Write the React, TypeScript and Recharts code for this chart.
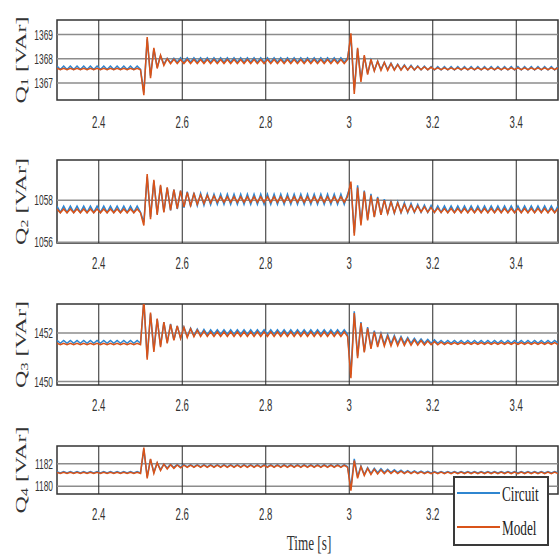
import { LineChart, Line, XAxis, YAxis, ReferenceLine, ReferenceArea, Legend } from 'recharts';

// sample times (s)
const time = [
  2.3, 2.308, 2.316, 2.324, 2.332, 2.34, 2.348, 2.356, 2.364, 2.372,
  2.38, 2.388, 2.396, 2.404, 2.412, 2.42, 2.428, 2.436, 2.444, 2.452,
  2.46, 2.468, 2.476, 2.484, 2.492, 2.5, 2.508, 2.516, 2.524, 2.532,
  2.54, 2.548, 2.556, 2.564, 2.572, 2.58, 2.588, 2.596, 2.604, 2.612,
  2.62, 2.628, 2.636, 2.644, 2.652, 2.66, 2.668, 2.676, 2.684, 2.692,
  2.7, 2.708, 2.716, 2.724, 2.732, 2.74, 2.748, 2.756, 2.764, 2.772,
  2.78, 2.788, 2.796, 2.804, 2.812, 2.82, 2.828, 2.836, 2.844, 2.852,
  2.86, 2.868, 2.876, 2.884, 2.892, 2.9, 2.908, 2.916, 2.924, 2.932,
  2.94, 2.948, 2.956, 2.964, 2.972, 2.98, 2.988, 2.996, 3.004, 3.012,
  3.02, 3.028, 3.036, 3.044, 3.052, 3.06, 3.068, 3.076, 3.084, 3.092,
  3.1, 3.108, 3.116, 3.124, 3.132, 3.14, 3.148, 3.156, 3.164, 3.172,
  3.18, 3.188, 3.196, 3.204, 3.212, 3.22, 3.228, 3.236, 3.244, 3.252,
  3.26, 3.268, 3.276, 3.284, 3.292, 3.3, 3.308, 3.316, 3.324, 3.332,
  3.34, 3.348, 3.356, 3.364, 3.372, 3.38, 3.388, 3.396, 3.404, 3.412,
  3.42, 3.428, 3.436, 3.444, 3.452, 3.46, 3.468, 3.476, 3.484, 3.492,
  3.5,
];

const q1Circuit = [
  1367.7, 1367.56, 1367.7, 1367.56, 1367.7, 1367.56, 1367.7, 1367.56, 1367.7, 1367.56,
  1367.7, 1367.56, 1367.7, 1367.56, 1367.7, 1367.56, 1367.7, 1367.56, 1367.7, 1367.56,
  1367.7, 1367.56, 1367.7, 1367.56, 1367.7, 1367.56, 1366.6, 1368.8, 1367.3, 1368.4,
  1367.65, 1368.12, 1367.78, 1368.02, 1367.84, 1368.02, 1367.86, 1368.04, 1367.86, 1368.04,
  1367.86, 1368.04, 1367.86, 1368.04, 1367.86, 1368.04, 1367.86, 1368.04, 1367.86, 1368.04,
  1367.86, 1368.04, 1367.86, 1368.04, 1367.86, 1368.04, 1367.86, 1368.04, 1367.86, 1368.04,
  1367.86, 1368.04, 1367.86, 1368.04, 1367.86, 1368.04, 1367.86, 1368.04, 1367.86, 1368.04,
  1367.86, 1368.04, 1367.86, 1368.04, 1367.86, 1368.04, 1367.86, 1368.04, 1367.86, 1368.04,
  1367.86, 1368.04, 1367.86, 1368.04, 1367.86, 1368.04, 1367.86, 1368.04, 1368.9, 1366.7,
  1368.4, 1367.15, 1368.1, 1367.4, 1367.95, 1367.52, 1367.9, 1367.56, 1367.86, 1367.56,
  1367.82, 1367.55, 1367.78, 1367.55, 1367.75, 1367.54, 1367.73, 1367.54, 1367.71, 1367.54,
  1367.7, 1367.54, 1367.68, 1367.54, 1367.68, 1367.54, 1367.68, 1367.54, 1367.68, 1367.54,
  1367.68, 1367.54, 1367.68, 1367.54, 1367.68, 1367.54, 1367.68, 1367.54, 1367.68, 1367.54,
  1367.68, 1367.54, 1367.68, 1367.54, 1367.68, 1367.54, 1367.68, 1367.54, 1367.68, 1367.54,
  1367.68, 1367.54, 1367.68, 1367.54, 1367.68, 1367.54, 1367.68, 1367.54, 1367.68, 1367.54,
  1367.68,
];

const q1Model = [
  1367.61, 1367.55, 1367.61, 1367.55, 1367.61, 1367.55, 1367.61, 1367.55, 1367.61, 1367.55,
  1367.61, 1367.55, 1367.61, 1367.55, 1367.61, 1367.55, 1367.61, 1367.55, 1367.61, 1367.55,
  1367.61, 1367.55, 1367.61, 1367.55, 1367.61, 1367.55, 1366.5, 1368.9, 1367.2, 1368.45,
  1367.6, 1368.15, 1367.72, 1368.0, 1367.8, 1367.98, 1367.8, 1367.97, 1367.8, 1367.97,
  1367.8, 1367.97, 1367.8, 1367.97, 1367.8, 1367.97, 1367.8, 1367.97, 1367.8, 1367.97,
  1367.8, 1367.97, 1367.8, 1367.97, 1367.8, 1367.97, 1367.8, 1367.97, 1367.8, 1367.97,
  1367.8, 1367.97, 1367.8, 1367.97, 1367.8, 1367.97, 1367.8, 1367.97, 1367.8, 1367.97,
  1367.8, 1367.97, 1367.8, 1367.97, 1367.8, 1367.97, 1367.8, 1367.97, 1367.8, 1367.97,
  1367.8, 1367.97, 1367.8, 1367.97, 1367.8, 1367.97, 1367.8, 1367.97, 1369.05, 1366.55,
  1368.45, 1367.05, 1368.15, 1367.35, 1367.98, 1367.5, 1367.9, 1367.52, 1367.85, 1367.52,
  1367.8, 1367.53, 1367.76, 1367.53, 1367.72, 1367.54, 1367.7, 1367.54, 1367.68, 1367.55,
  1367.66, 1367.55, 1367.65, 1367.55, 1367.63, 1367.55, 1367.63, 1367.55, 1367.63, 1367.55,
  1367.63, 1367.55, 1367.63, 1367.55, 1367.63, 1367.55, 1367.63, 1367.55, 1367.63, 1367.55,
  1367.63, 1367.55, 1367.63, 1367.55, 1367.63, 1367.55, 1367.63, 1367.55, 1367.63, 1367.55,
  1367.63, 1367.55, 1367.63, 1367.55, 1367.63, 1367.55, 1367.63, 1367.55, 1367.63, 1367.55,
  1367.63,
];

const q2Circuit = [
  1057.72, 1057.42, 1057.72, 1057.42, 1057.72, 1057.42, 1057.72, 1057.42, 1057.72, 1057.42,
  1057.72, 1057.42, 1057.72, 1057.42, 1057.72, 1057.42, 1057.72, 1057.42, 1057.72, 1057.42,
  1057.72, 1057.42, 1057.72, 1057.42, 1057.72, 1057.42, 1056.95, 1059.1, 1057.2, 1058.9,
  1057.35, 1058.66, 1057.45, 1058.58, 1057.52, 1058.5, 1057.58, 1058.45, 1057.64, 1058.4,
  1057.7, 1058.35, 1057.74, 1058.32, 1057.76, 1058.3, 1057.78, 1058.28, 1057.8, 1058.28,
  1057.8, 1058.28, 1057.8, 1058.28, 1057.8, 1058.28, 1057.8, 1058.28, 1057.8, 1058.28,
  1057.8, 1058.28, 1057.8, 1058.28, 1057.8, 1058.28, 1057.8, 1058.28, 1057.8, 1058.28,
  1057.8, 1058.28, 1057.8, 1058.28, 1057.8, 1058.28, 1057.8, 1058.28, 1057.8, 1058.28,
  1057.8, 1058.28, 1057.8, 1058.28, 1057.8, 1058.28, 1057.8, 1058.28, 1058.75, 1056.45,
  1058.7, 1056.9, 1058.45, 1057.1, 1058.3, 1057.22, 1058.15, 1057.3, 1058.05, 1057.34,
  1057.98, 1057.38, 1057.92, 1057.4, 1057.88, 1057.4, 1057.84, 1057.42, 1057.8, 1057.42,
  1057.77, 1057.42, 1057.75, 1057.42, 1057.73, 1057.42, 1057.73, 1057.42, 1057.73, 1057.42,
  1057.73, 1057.42, 1057.73, 1057.42, 1057.73, 1057.42, 1057.73, 1057.42, 1057.73, 1057.42,
  1057.73, 1057.42, 1057.73, 1057.42, 1057.73, 1057.42, 1057.73, 1057.42, 1057.73, 1057.42,
  1057.73, 1057.42, 1057.73, 1057.42, 1057.73, 1057.42, 1057.73, 1057.42, 1057.73, 1057.42,
  1057.73,
];

const q2Model = [
  1057.58, 1057.4, 1057.58, 1057.4, 1057.58, 1057.4, 1057.58, 1057.4, 1057.58, 1057.4,
  1057.58, 1057.4, 1057.58, 1057.4, 1057.58, 1057.4, 1057.58, 1057.4, 1057.58, 1057.4,
  1057.58, 1057.4, 1057.58, 1057.4, 1057.58, 1057.4, 1056.8, 1059.24, 1057.1, 1058.96,
  1057.3, 1058.72, 1057.42, 1058.6, 1057.52, 1058.5, 1057.6, 1058.45, 1057.68, 1058.36,
  1057.74, 1058.3, 1057.8, 1058.25, 1057.84, 1058.22, 1057.87, 1058.2, 1057.9, 1058.16,
  1057.9, 1058.16, 1057.9, 1058.16, 1057.9, 1058.16, 1057.9, 1058.16, 1057.9, 1058.16,
  1057.9, 1058.16, 1057.9, 1058.16, 1057.9, 1058.16, 1057.9, 1058.16, 1057.9, 1058.16,
  1057.9, 1058.16, 1057.9, 1058.16, 1057.9, 1058.16, 1057.9, 1058.16, 1057.9, 1058.16,
  1057.9, 1058.16, 1057.9, 1058.16, 1057.9, 1058.16, 1057.9, 1058.16, 1058.88, 1056.32,
  1058.6, 1056.8, 1058.4, 1057.04, 1058.22, 1057.2, 1058.1, 1057.3, 1058.0, 1057.36,
  1057.92, 1057.4, 1057.86, 1057.42, 1057.8, 1057.44, 1057.76, 1057.44, 1057.72, 1057.44,
  1057.68, 1057.43, 1057.65, 1057.42, 1057.62, 1057.41, 1057.6, 1057.4, 1057.6, 1057.4,
  1057.6, 1057.4, 1057.6, 1057.4, 1057.6, 1057.4, 1057.6, 1057.4, 1057.6, 1057.4,
  1057.6, 1057.4, 1057.6, 1057.4, 1057.6, 1057.4, 1057.6, 1057.4, 1057.6, 1057.4,
  1057.6, 1057.4, 1057.6, 1057.4, 1057.6, 1057.4, 1057.6, 1057.4, 1057.6, 1057.4,
  1057.6,
];

const q3Circuit = [
  1451.7, 1451.58, 1451.7, 1451.58, 1451.7, 1451.58, 1451.7, 1451.58, 1451.7, 1451.58,
  1451.7, 1451.58, 1451.7, 1451.58, 1451.7, 1451.58, 1451.7, 1451.58, 1451.7, 1451.58,
  1451.7, 1451.58, 1451.7, 1451.58, 1451.7, 1451.58, 1453.3, 1451.0, 1452.8, 1451.3,
  1452.58, 1451.48, 1452.45, 1451.62, 1452.38, 1451.72, 1452.3, 1451.8, 1452.25, 1451.86,
  1452.2, 1451.9, 1452.17, 1451.92, 1452.15, 1451.94, 1452.14, 1451.95, 1452.14, 1451.95,
  1452.14, 1451.95, 1452.14, 1451.95, 1452.14, 1451.95, 1452.14, 1451.95, 1452.14, 1451.95,
  1452.14, 1451.95, 1452.14, 1451.95, 1452.14, 1451.95, 1452.14, 1451.95, 1452.14, 1451.95,
  1452.14, 1451.95, 1452.14, 1451.95, 1452.14, 1451.95, 1452.14, 1451.95, 1452.14, 1451.95,
  1452.14, 1451.95, 1452.14, 1451.95, 1452.14, 1451.95, 1452.14, 1451.95, 1450.3, 1452.9,
  1451.05, 1452.45, 1451.25, 1452.25, 1451.42, 1452.1, 1451.5, 1452.0, 1451.54, 1451.94,
  1451.56, 1451.9, 1451.57, 1451.86, 1451.58, 1451.82, 1451.58, 1451.78, 1451.58, 1451.76,
  1451.58, 1451.74, 1451.58, 1451.72, 1451.58, 1451.7, 1451.58, 1451.7, 1451.58, 1451.7,
  1451.58, 1451.7, 1451.58, 1451.7, 1451.58, 1451.7, 1451.58, 1451.7, 1451.58, 1451.7,
  1451.58, 1451.7, 1451.58, 1451.7, 1451.58, 1451.7, 1451.58, 1451.7, 1451.58, 1451.7,
  1451.58, 1451.7, 1451.58, 1451.7, 1451.58, 1451.7, 1451.58, 1451.7, 1451.58, 1451.7,
  1451.58,
];

const q3Model = [
  1451.58, 1451.52, 1451.58, 1451.52, 1451.58, 1451.52, 1451.58, 1451.52, 1451.58, 1451.52,
  1451.58, 1451.52, 1451.58, 1451.52, 1451.58, 1451.52, 1451.58, 1451.52, 1451.58, 1451.52,
  1451.58, 1451.52, 1451.58, 1451.52, 1451.58, 1451.52, 1453.4, 1450.9, 1452.85, 1451.22,
  1452.6, 1451.42, 1452.45, 1451.58, 1452.36, 1451.7, 1452.3, 1451.78, 1452.24, 1451.82,
  1452.18, 1451.85, 1452.12, 1451.86, 1452.08, 1451.86, 1452.05, 1451.86, 1452.05, 1451.86,
  1452.05, 1451.86, 1452.05, 1451.86, 1452.05, 1451.86, 1452.05, 1451.86, 1452.05, 1451.86,
  1452.05, 1451.86, 1452.05, 1451.86, 1452.05, 1451.86, 1452.05, 1451.86, 1452.05, 1451.86,
  1452.05, 1451.86, 1452.05, 1451.86, 1452.05, 1451.86, 1452.05, 1451.86, 1452.05, 1451.86,
  1452.05, 1451.86, 1452.05, 1451.86, 1452.05, 1451.86, 1452.05, 1451.86, 1450.14, 1452.83,
  1450.97, 1452.41, 1451.2, 1452.2, 1451.35, 1452.05, 1451.42, 1451.95, 1451.46, 1451.88,
  1451.47, 1451.84, 1451.48, 1451.8, 1451.49, 1451.76, 1451.5, 1451.72, 1451.5, 1451.69,
  1451.51, 1451.67, 1451.52, 1451.65, 1451.52, 1451.63, 1451.53, 1451.61, 1451.53, 1451.61,
  1451.53, 1451.61, 1451.53, 1451.61, 1451.53, 1451.61, 1451.53, 1451.61, 1451.53, 1451.61,
  1451.53, 1451.61, 1451.53, 1451.61, 1451.53, 1451.61, 1451.53, 1451.61, 1451.53, 1451.61,
  1451.53, 1451.61, 1451.53, 1451.61, 1451.53, 1451.61, 1451.53, 1451.61, 1451.53, 1451.61,
  1451.53,
];

const q4Circuit = [
  1181.3, 1181.18, 1181.3, 1181.18, 1181.3, 1181.18, 1181.3, 1181.18, 1181.3, 1181.18,
  1181.3, 1181.18, 1181.3, 1181.18, 1181.3, 1181.18, 1181.3, 1181.18, 1181.3, 1181.18,
  1181.3, 1181.18, 1181.3, 1181.18, 1181.3, 1181.18, 1183.3, 1180.85, 1182.4, 1181.25,
  1182.08, 1181.48, 1181.98, 1181.62, 1181.95, 1181.68, 1181.94, 1181.72, 1181.93, 1181.74,
  1181.93, 1181.74, 1181.93, 1181.74, 1181.93, 1181.74, 1181.93, 1181.74, 1181.93, 1181.74,
  1181.93, 1181.74, 1181.93, 1181.74, 1181.93, 1181.74, 1181.93, 1181.74, 1181.93, 1181.74,
  1181.93, 1181.74, 1181.93, 1181.74, 1181.93, 1181.74, 1181.93, 1181.74, 1181.93, 1181.74,
  1181.93, 1181.74, 1181.93, 1181.74, 1181.93, 1181.74, 1181.93, 1181.74, 1181.93, 1181.74,
  1181.93, 1181.74, 1181.93, 1181.74, 1181.93, 1181.74, 1181.93, 1181.74, 1179.9, 1182.45,
  1180.85, 1181.8, 1181.05, 1181.66, 1181.15, 1181.6, 1181.2, 1181.56, 1181.22, 1181.52,
  1181.22, 1181.48, 1181.21, 1181.44, 1181.2, 1181.4, 1181.2, 1181.37, 1181.19, 1181.35,
  1181.19, 1181.33, 1181.19, 1181.32, 1181.19, 1181.32, 1181.19, 1181.32, 1181.19, 1181.32,
  1181.19, 1181.32, 1181.19, 1181.32, 1181.19, 1181.32, 1181.19, 1181.32, 1181.19, 1181.32,
  1181.19, 1181.32, 1181.19, 1181.32, 1181.19, 1181.32, 1181.19, 1181.32, 1181.19, 1181.32,
  1181.19, 1181.32, 1181.19, 1181.32, 1181.19, 1181.32, 1181.19, 1181.32, 1181.19, 1181.32,
  1181.19,
];

const q4Model = [
  1181.24, 1181.14, 1181.24, 1181.14, 1181.24, 1181.14, 1181.24, 1181.14, 1181.24, 1181.14,
  1181.24, 1181.14, 1181.24, 1181.14, 1181.24, 1181.14, 1181.24, 1181.14, 1181.24, 1181.14,
  1181.24, 1181.14, 1181.24, 1181.14, 1181.24, 1181.14, 1183.45, 1180.7, 1182.45, 1181.15,
  1182.1, 1181.4, 1181.98, 1181.55, 1181.92, 1181.6, 1181.9, 1181.65, 1181.88, 1181.68,
  1181.88, 1181.68, 1181.88, 1181.68, 1181.88, 1181.68, 1181.88, 1181.68, 1181.88, 1181.68,
  1181.88, 1181.68, 1181.88, 1181.68, 1181.88, 1181.68, 1181.88, 1181.68, 1181.88, 1181.68,
  1181.88, 1181.68, 1181.88, 1181.68, 1181.88, 1181.68, 1181.88, 1181.68, 1181.88, 1181.68,
  1181.88, 1181.68, 1181.88, 1181.68, 1181.88, 1181.68, 1181.88, 1181.68, 1181.88, 1181.68,
  1181.88, 1181.68, 1181.88, 1181.68, 1181.88, 1181.68, 1181.88, 1181.68, 1179.6, 1182.3,
  1180.7, 1181.75, 1180.95, 1181.6, 1181.05, 1181.52, 1181.1, 1181.46, 1181.12, 1181.42,
  1181.13, 1181.38, 1181.13, 1181.35, 1181.13, 1181.32, 1181.13, 1181.3, 1181.13, 1181.28,
  1181.13, 1181.27, 1181.13, 1181.27, 1181.13, 1181.27, 1181.13, 1181.27, 1181.13, 1181.27,
  1181.13, 1181.27, 1181.13, 1181.27, 1181.13, 1181.27, 1181.13, 1181.27, 1181.13, 1181.27,
  1181.13, 1181.27, 1181.13, 1181.27, 1181.13, 1181.27, 1181.13, 1181.27, 1181.13, 1181.27,
  1181.13, 1181.27, 1181.13, 1181.27, 1181.13, 1181.27, 1181.13, 1181.27, 1181.13, 1181.27,
  1181.13,
];

const xTicks = [2.4, 2.6, 2.8, 3, 3.2, 3.4];
// the legend box hides the last tick label of the bottom panel
const hiddenLastTicks = [3.4];

const BLUE = '#2f86d0';
const ORANGE = '#d95319';
const SERIF = '"Liberation Serif", "Times New Roman", serif';
const SANS = '"Liberation Sans", Arial, sans-serif';
const SQUEEZE = 0.6;

const panels = [
  { sub: '1', circuit: q1Circuit, model: q1Model, domain: [1366.3, 1369.6], ticks: [1367, 1368, 1369], top: 0, height: 140, plotTop: 20, plotH: 80, tickGap: 22.5 },
  { sub: '2', circuit: q2Circuit, model: q2Model, domain: [1055.97, 1059.9], ticks: [1056, 1058], top: 140, height: 140, plotTop: 20, plotH: 83, tickGap: 20.5 },
  { sub: '3', circuit: q3Circuit, model: q3Model, domain: [1449.86, 1453.2], ticks: [1450, 1452], top: 280, height: 142, plotTop: 24, plotH: 81, tickGap: 20 },
  { sub: '4', circuit: q4Circuit, model: q4Model, domain: [1179.3, 1183.6], ticks: [1180, 1182], top: 410, height: 146, plotTop: 36, plotH: 48, tickGap: 20.5 },
];

const XTick = (props: any) => {
  const { x, y, payload, gap, hide } = props;
  if (hide && hide.includes(payload.value)) return <g />;
  return (
    <text transform={`translate(${x},${y + gap + 5.7}) scale(${SQUEEZE},1)`} textAnchor="middle" fontFamily={SANS} fontSize={16} fill="#333">
      {payload.value}
    </text>
  );
};

const YTick = (props: any) => {
  const { x, y, payload } = props;
  return (
    <text transform={`translate(${x - 4},${y + 5}) scale(${SQUEEZE},1)`} textAnchor="end" fontFamily={SANS} fontSize={14} fill="#333">
      {payload.value}
    </text>
  );
};

const YLabel = (props: any) => {
  const { viewBox, sub } = props;
  const cy = viewBox.y + viewBox.height / 2;
  return (
    <text transform={`translate(21,${cy}) scale(${SQUEEZE},1) rotate(-90)`} textAnchor="middle" dominantBaseline="central" fontFamily={SERIF} fontSize={24} fill="#333">
      Q<tspan fontSize={16} dy={5}>{sub}</tspan>
      <tspan dy={-5}> [VAr]</tspan>
    </text>
  );
};

const TimeLabel = () => (
  <text transform={`translate(309,140) scale(${SQUEEZE},1)`} textAnchor="middle" fontFamily={SERIF} fontSize={22} fill="#333">
    Time [s]
  </text>
);

const LegendBox = () => (
  <svg width={96} height={70} style={{ display: 'block' }}>
    <rect x={1} y={1} width={94} height={68} fill="#fff" stroke="#3a3a3a" strokeWidth={2} />
    <line x1={4} x2={47} y1={17} y2={17} stroke={BLUE} strokeWidth={2} />
    <text transform={`translate(49,25) scale(${SQUEEZE},1)`} fontFamily={SERIF} fontSize={22} fill="#222">Circuit</text>
    <line x1={4} x2={47} y1={51} y2={51} stroke={ORANGE} strokeWidth={2} />
    <text transform={`translate(49,59) scale(${SQUEEZE},1)`} fontFamily={SERIF} fontSize={22} fill="#222">Model</text>
  </svg>
);

function Panel({ p, last }: { p: any; last: boolean }) {
  const data = time.map((t, i) => ({ t, circuit: p.circuit[i], model: p.model[i] }));
  return (
    <div style={{ position: 'absolute', left: 0, top: p.top }}>
      <LineChart width={560} height={p.height} data={data} margin={{ top: p.plotTop, right: 2, bottom: 0, left: 0 }}>
        <XAxis
          dataKey="t"
          type="number"
          domain={[2.3, 3.5]}
          ticks={xTicks}
          interval={0}
          allowDataOverflow
          height={p.height - p.plotTop - p.plotH}
          tickSize={0}
          tickMargin={0}
          axisLine={false}
          tickLine={false}
          tick={<XTick gap={p.tickGap} hide={last ? hiddenLastTicks : null} />}
          label={last ? <TimeLabel /> : undefined}
        />
        <YAxis
          type="number"
          domain={p.domain}
          ticks={p.ticks}
          interval={0}
          allowDataOverflow
          width={57}
          tickSize={0}
          tickMargin={0}
          axisLine={false}
          tickLine={false}
          tick={<YTick />}
          label={<YLabel sub={p.sub} />}
        />
        {p.ticks.map((v: number) => (
          <ReferenceLine key={'h' + v} y={v} stroke="#8c8c8c" strokeWidth={1.5} />
        ))}
        {xTicks.map((v) => (
          <ReferenceLine key={'v' + v} x={v} stroke="#2a2a2a" strokeWidth={1} />
        ))}
        <Line dataKey="circuit" stroke={BLUE} strokeWidth={1.5} dot={false} isAnimationActive={false} />
        <Line dataKey="model" stroke={ORANGE} strokeWidth={1.5} dot={false} isAnimationActive={false} />
        <ReferenceArea x1={2.3} x2={3.5} y1={p.domain[0]} y2={p.domain[1]} fill="none" fillOpacity={0} stroke="#333" strokeWidth={1.5} />
        {last && (
          <Legend
            layout="horizontal"
            align="center"
            verticalAlign="middle"
            wrapperStyle={{ left: 453, top: 66, right: 'auto', width: 96, height: 70 }}
            content={() => <LegendBox />}
          />
        )}
      </LineChart>
    </div>
  );
}

export default function App() {
  return (
    <div style={{ position: 'absolute', left: 0, top: 0, width: 560, height: 556, background: '#fff' }}>
      {panels.map((p, i) => (
        <Panel key={p.sub} p={p} last={i === panels.length - 1} />
      ))}
    </div>
  );
}
